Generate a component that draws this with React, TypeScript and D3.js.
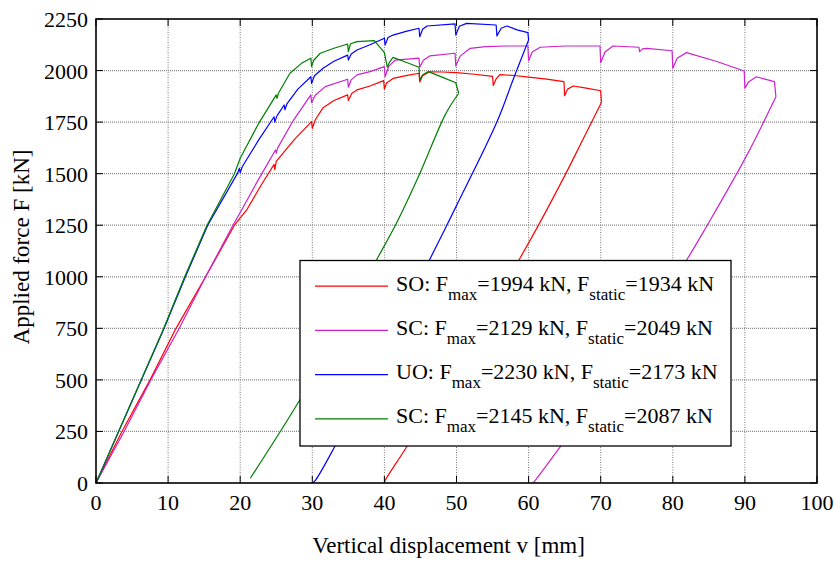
import { useMemo } from "react";
import * as d3 from "d3";

const W = 834;
const H = 561;
const MARGIN = { top: 19, right: 17, bottom: 78, left: 96 };

const xTicks = [0, 10, 20, 30, 40, 50, 60, 70, 80, 90, 100];
const yTicks = [0, 250, 500, 750, 1000, 1250, 1500, 1750, 2000, 2250];

// [displacement mm, force kN] - loading branch and unloading branch
const soLoad: [number, number][] = [
  [0, 0], [3.6, 250], [7.5, 500], [11.1, 750], [15.2, 1000], [19.2, 1250], [20.9, 1324],
  [23, 1450], [24.7, 1545], [24.8, 1520], [25, 1560], [27.5, 1665], [29.9, 1752], [30.0, 1720],
  [30.4, 1760], [31.5, 1820], [33, 1855], [34.9, 1882], [35.0, 1855], [35.5, 1890], [36.2, 1906],
  [38, 1925], [39.9, 1951], [40.0, 1910], [40.3, 1940], [41.2, 1962], [43, 1975], [44.8, 1987],
  [44.9, 1945], [45.3, 1975], [46.3, 1994], [48, 1993], [50, 1990], [52.5, 1982], [55, 1972],
  [55.1, 1928], [55.5, 1960], [56, 1980], [58, 1976], [60, 1968], [62.5, 1958], [64.9, 1946],
  [65.0, 1878], [65.4, 1910], [66.2, 1925], [68, 1915], [70, 1902], [70.1, 1845],
];
const soUnload: [number, number][] = [
  [70.1, 1845], [67.1, 1635], [65.3, 1510], [61.6, 1265], [58.8, 1090], [51, 630], [43.1, 176],
  [40.1, 12], [40, 0],
];

const sc1Load: [number, number][] = [
  [0, 0], [3.9, 250], [7.6, 500], [11.55, 750], [15.2, 1000], [19.0, 1250], [20.2, 1324],
  [22.5, 1470], [24.9, 1615], [25.0, 1600], [25.2, 1625], [27.4, 1760], [29.8, 1882], [29.9, 1844],
  [30.4, 1880], [31.8, 1922], [34.9, 1958], [35.0, 1919], [35.4, 1955], [36.2, 1979], [38, 1995],
  [40.0, 2019], [40.1, 1970], [40.6, 2020], [41.5, 2051], [44.8, 2060], [44.9, 2016], [45.4, 2050],
  [46.3, 2071], [49.8, 2084], [49.9, 2022], [50.5, 2070], [51.9, 2108], [54, 2116], [57, 2119],
  [59.9, 2119], [60.0, 2048], [60.5, 2090], [61.6, 2113], [65, 2119], [69.9, 2119], [70.0, 2038],
  [70.6, 2090], [71.7, 2119], [75.3, 2113], [75.4, 2092], [75.8, 2105], [76.4, 2108], [79.9, 2096],
  [80.0, 2011], [80.6, 2060], [81.9, 2087], [86, 2045], [89.9, 1998], [90.0, 1914], [90.5, 1945],
  [91.6, 1970], [94.1, 1946], [94.3, 1873],
];
const sc1Unload: [number, number][] = [
  [94.3, 1873], [90.2, 1585], [84.7, 1245], [81.9, 1080], [73, 600], [64.4, 176], [60.9, 12],
  [60.6, 0],
];

const uoLoad: [number, number][] = [
  [0, 0], [9.45, 750], [12.4, 1000], [15.5, 1250], [19.6, 1500], [19.9, 1526], [20.0, 1505],
  [20.3, 1535], [22.5, 1660], [24.7, 1776], [24.8, 1750], [25.1, 1780], [26.1, 1833], [26.2, 1810],
  [26.5, 1840], [28, 1910], [29.8, 1970], [29.9, 1938], [30.3, 1975], [31.5, 2011], [33, 2045],
  [34.9, 2075], [35.0, 2051], [35.4, 2080], [36.2, 2100], [38, 2125], [40.0, 2157], [40.1, 2124],
  [40.5, 2160], [41.2, 2172], [43, 2190], [44.8, 2205], [44.9, 2164], [45.3, 2200], [45.9, 2216],
  [49.8, 2226], [49.9, 2172], [50.4, 2215], [51.4, 2229], [55.5, 2221], [55.6, 2168], [56.2, 2205],
  [57, 2216], [58.4, 2197], [59.9, 2184], [60, 2148],
];
const uoUnload: [number, number][] = [
  [60, 2148], [57.9, 1960], [55.6, 1750], [50, 1345], [46.3, 1085], [39.5, 615], [33.1, 176],
  [30.4, 12], [30, 0],
];

const sc2Load: [number, number][] = [
  [0, 0], [9.4, 750], [12.3, 1000], [15.4, 1250], [19.2, 1500], [20, 1575], [22.5, 1740],
  [25.0, 1882], [25.1, 1865], [25.3, 1890], [26.9, 1987], [28.5, 2035], [29.8, 2060], [29.9, 2019],
  [30.2, 2050], [31.1, 2084], [33, 2108], [34.9, 2129], [35.0, 2092], [35.3, 2130], [36.2, 2140],
  [38.6, 2145], [39.3, 2116], [40.0, 2087], [40.4, 2016], [40.7, 2040], [41.2, 2064], [43, 2040],
  [44.8, 2016], [44.9, 1954], [45.3, 1980], [46.1, 1995], [48, 1968], [49.9, 1941], [50.3, 1890],
];
const sc2Unload: [number, number][] = [
  [50.3, 1890], [48.5, 1790], [44.9, 1500], [41.7, 1262], [38.9, 1081], [33.5, 730],
  [28.3, 405], [21.4, 23],
];

const series = [
  { name: "SO", load: soLoad, unload: soUnload, color: "#ff0000", fmax: 1994, fstatic: 1934 },
  { name: "SC", load: sc1Load, unload: sc1Unload, color: "#cc22cc", fmax: 2129, fstatic: 2049 },
  { name: "UO", load: uoLoad, unload: uoUnload, color: "#0000ff", fmax: 2230, fstatic: 2173 },
  { name: "SC", load: sc2Load, unload: sc2Unload, color: "#008000", fmax: 2145, fstatic: 2087 },
];

const FONT = '"Liberation Serif", "DejaVu Serif", serif';

export default function App() {
  const x = useMemo(
    () => d3.scaleLinear().domain([0, 100]).range([MARGIN.left, W - MARGIN.right]),
    []
  );
  const y = useMemo(
    () => d3.scaleLinear().domain([0, 2250]).range([H - MARGIN.bottom, MARGIN.top]),
    []
  );
  const line = d3
    .line<[number, number]>()
    .x((d) => x(d[0]))
    .y((d) => y(d[1]));
  const smooth = d3
    .line<[number, number]>()
    .x((d) => x(d[0]))
    .y((d) => y(d[1]))
    .curve(d3.curveCatmullRom.alpha(0.5));

  const x0 = x(0), x1 = x(100), y0 = y(0), y1 = y(2250);
  const tick = 7;

  // legend placement
  const lg = { x: 300, y: 260.5, w: 431, h: 185.5 };
  const rowH = 44.2;

  return (
    <svg
      width={W}
      height={H}
      style={{ position: "absolute", left: 0, top: 0, background: "#fff", fontFamily: FONT }}
    >
      {/* grid */}
      {xTicks.slice(1, -1).map((t) => (
        <line key={"gx" + t} x1={x(t)} x2={x(t)} y1={y0} y2={y1}
          stroke="#777" strokeWidth={1} strokeDasharray="1,1.5" />
      ))}
      {yTicks.slice(1, -1).map((t) => (
        <line key={"gy" + t} x1={x0} x2={x1} y1={y(t)} y2={y(t)}
          stroke="#888" strokeWidth={1.3} strokeDasharray="1,1" />
      ))}

      {/* curves */}
      {series.map((s, i) => (
        <g key={i} fill="none" stroke={s.color} strokeWidth={1.2} strokeLinejoin="round">
          <path d={line(s.load) ?? ""} />
          <path d={smooth(s.unload) ?? ""} />
        </g>
      ))}

      {/* ticks */}
      {xTicks.map((t) => (
        <g key={"tx" + t}>
          <line x1={x(t)} x2={x(t)} y1={y0} y2={y0 - tick} stroke="#000" />
          <line x1={x(t)} x2={x(t)} y1={y1} y2={y1 + tick} stroke="#000" />
          <text x={x(t)} y={y0 + 27} textAnchor="middle" fontSize={22}>{t}</text>
        </g>
      ))}
      {yTicks.map((t) => (
        <g key={"ty" + t}>
          <line x1={x0} x2={x0 + tick} y1={y(t)} y2={y(t)} stroke="#000" />
          <line x1={x1} x2={x1 - tick} y1={y(t)} y2={y(t)} stroke="#000" />
          <text x={x0 - 8} y={y(t) + 8} textAnchor="end" fontSize={22}>{t}</text>
        </g>
      ))}

      {/* box */}
      <rect x={x0} y={y1} width={x1 - x0} height={y0 - y1} fill="none"
        stroke="#000" strokeWidth={1.6} />

      {/* axis labels */}
      <text x={(x0 + x1) / 2 - 8} y={553} textAnchor="middle" fontSize={23}>
        Vertical displacement v [mm]
      </text>
      <text transform={`translate(29, ${(y0 + y1) / 2 - 4}) rotate(-90)`}
        textAnchor="middle" fontSize={23}>
        Applied force F [kN]
      </text>

      {/* legend */}
      <rect x={lg.x} y={lg.y} width={lg.w} height={lg.h} fill="#fff"
        stroke="#000" strokeWidth={1.3} />
      {series.map((s, i) => {
        const by = lg.y + 30.2 + i * rowH;
        return (
          <g key={"lg" + i}>
            <line x1={315} x2={388} y1={by - 4.5} y2={by - 4.5} stroke={s.color} strokeWidth={1.2} />
            <text x={396} y={by} fontSize={22}>
              {s.name}: F
              <tspan dy={9} fontSize={17}>max</tspan>
              <tspan dy={-9}>={s.fmax} kN, F</tspan>
              <tspan dy={9} fontSize={17}>static</tspan>
              <tspan dy={-9}>={s.fstatic} kN</tspan>
            </text>
          </g>
        );
      })}
    </svg>
  );
}
